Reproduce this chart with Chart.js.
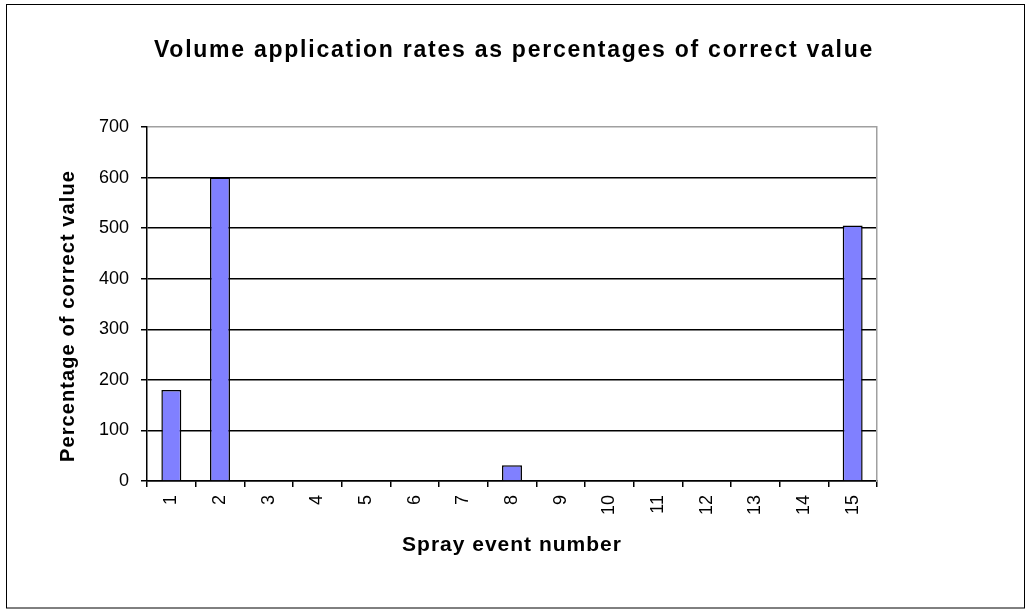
<!DOCTYPE html>
<html>
<head>
<meta charset="utf-8">
<script src="https://cdn.jsdelivr.net/npm/chart.js@4/dist/chart.umd.min.js"></script>
<style>
  html, body { margin:0; padding:0; background:#fff; }
  #wrap { width:1028px; height:610px; }
</style>
</head>
<body>
<div id="wrap"><canvas id="chart" width="1028" height="610"></canvas></div>
<script>
const events   = ["1","2","3","4","5","6","7","8","9","10","11","12","13","14","15"];
const percents = [180, 600, 0, 0, 0, 0, 0, 31, 0, 0, 0, 0, 0, 0, 505];
const yTicks   = [0, 100, 200, 300, 400, 500, 600, 700];

const FONT = "'Liberation Sans', Arial, sans-serif";

/* wrap a draw method so Excel-like wide letter spacing is used */
function spaced(obj, fn, sp, dy){
  if(!obj || obj["_sp_"+fn]) return;
  const orig = obj[fn];
  obj["_sp_"+fn] = true;
  obj[fn] = function(...a){
    const c = this.ctx;
    c.save();
    c.letterSpacing = sp;
    if(dy) c.translate(0, dy);
    orig.apply(this, a);
    c.restore();
  };
}

const excelLook = {
  id:"excelLook",
  beforeDraw(chart){
    spaced(chart.titleBlock, "draw", "1.75px");
    spaced(chart.scales.x, "drawTitle", "1px");
    spaced(chart.scales.y, "drawTitle", "1.1px", 12);
  },
  afterDraw(chart){
    const c = chart.ctx;
    c.save();
    c.strokeStyle = "#000";
    c.lineWidth = 1;
    c.strokeRect(6.5, 4.5, 1018, 603.5);
    c.restore();
  }
};

new Chart(document.getElementById("chart"), {
  type:"bar",
  data:{
    labels: events,
    datasets:[{
      data: percents,
      backgroundColor:"#8080ff",
      borderColor:"#000",
      borderWidth:1.5,
      barPercentage:0.41,
      categoryPercentage:1
    }]
  },
  options:{
    responsive:false,
    animation:false,
    layout:{padding:{top:6, left:6, right:6, bottom:20}},
    plugins:{
      legend:{display:false},
      tooltip:{enabled:false},
      title:{
        display:true,
        text:"Volume application rates as percentages of correct value",
        color:"#000",
        font:{family:FONT, size:23, weight:"bold"},
        padding:{top:30.4, bottom:63}
      }
    },
    scales:{
      x:{
        offset:true,
        grid:{drawOnChartArea:false, drawTicks:true, tickLength:6, color:"#000", lineWidth:1.5},
        border:{color:"#000", width:1.5},
        ticks:{color:"#000", font:{family:FONT, size:18}, maxRotation:90, minRotation:90, padding:8, autoSkip:false},
        title:{display:true, text:"Spray event number", color:"#000",
               font:{family:FONT, size:21, weight:"bold"}, padding:{top:0, bottom:32.4}},
        afterFit(s){ s.height = 109; }
      },
      y:{
        min:0, max:700,
        afterBuildTicks(s){ s.ticks = yTicks.map(v => ({value:v})); },
        grid:{
          color: c => (c.tick && c.tick.value === 700) ? "#a0a0a0" : "#000",
          tickColor:"#000", tickLength:6, lineWidth:1.5
        },
        border:{color:"#000", width:1.5},
        ticks:{color:"#000", font:{family:FONT, size:18}, padding:12},
        title:{display:true, text:"Percentage of correct value", color:"#000",
               font:{family:FONT, size:20, weight:"bold"}, padding:{top:50, bottom:0}},
        afterFit(s){ s.width = 141; }
      },
      y2:{
        position:"right",
        grid:{display:false},
        ticks:{display:false},
        border:{display:true, color:"#a0a0a0", width:1.5},
        afterFit(s){ s.width = 145; }
      }
    }
  },
  plugins:[excelLook]
});
</script>
</body>
</html>
